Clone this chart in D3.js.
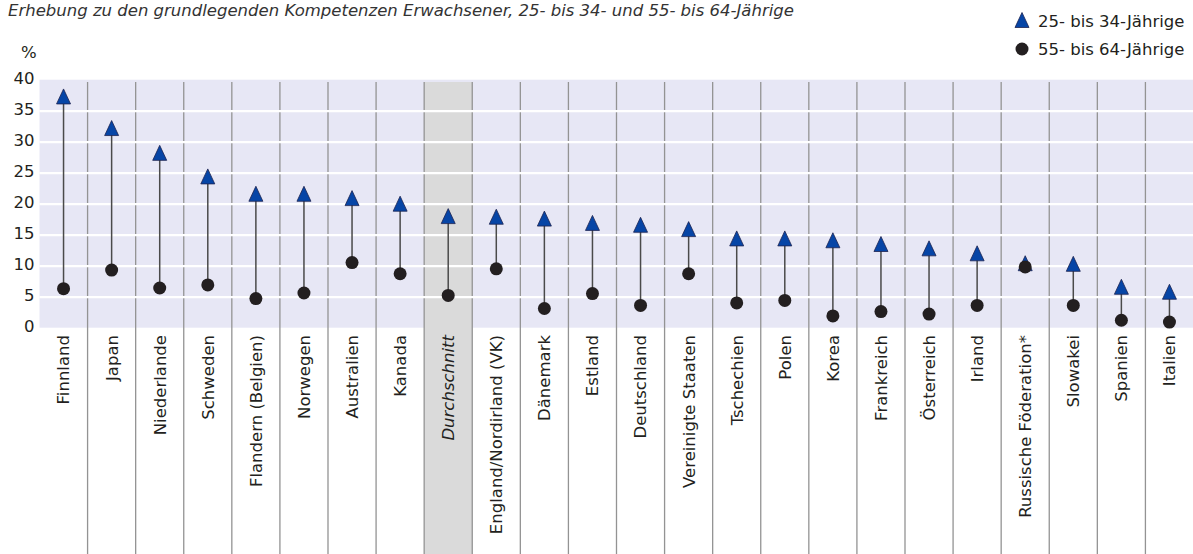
<!DOCTYPE html>
<html>
<head>
<meta charset="utf-8">
<script src="https://cdn.jsdelivr.net/npm/d3@7"></script>
<style>
  body { margin: 0; background: #fff; }
  svg text { font-family: "DejaVu Sans", sans-serif; fill: #231f20; }
</style>
</head>
<body>
<div id="chart"></div>
<script>
var countries = ['Finnland', 'Japan', 'Niederlande', 'Schweden', 'Flandern (Belgien)', 'Norwegen',
  'Australien', 'Kanada', 'Durchschnitt', 'England/Nordirland (VK)', 'Dänemark', 'Estland',
  'Deutschland', 'Vereinigte Staaten', 'Tschechien', 'Polen', 'Korea', 'Frankreich',
  'Österreich', 'Irland', 'Russische Föderation*', 'Slowakei', 'Spanien', 'Italien'];

// 25- bis 34-Jährige
var young = [37.3, 32.2, 28.2, 24.4, 21.6, 21.6, 20.9, 20.0, 18.0, 17.9, 17.6, 16.9,
  16.6, 15.9, 14.4, 14.4, 14.1, 13.5, 12.8, 12.0, 10.4, 10.3, 6.6, 5.8];
// 55- bis 64-Jährige
var old = [6.3, 9.3, 6.4, 6.9, 4.7, 5.6, 10.5, 8.7, 5.2, 9.5, 3.1, 5.5,
  3.6, 8.7, 4.0, 4.4, 1.9, 2.6, 2.2, 3.6, 9.8, 3.6, 1.2, 0.9];

var yTicks = [0, 5, 10, 15, 20, 25, 30, 35, 40];
var legendLabels = ['25- bis 34-Jährige', '55- bis 64-Jährige'];
var title = 'Erhebung zu den grundlegenden Kompetenzen Erwachsener, 25- bis 34- und 55- bis 64-Jährige';
var highlight = 'Durchschnitt';

var width = 1193, height = 554;
var fs = 16.5;

var svg = d3.select('#chart').append('svg')
  .attr('width', width)
  .attr('height', height);

var x = d3.scaleBand().domain(countries).range([39.5, 1193.5]);
var y = d3.scaleLinear().domain([0, 40]).range([327.7, 79.7]);

// title at the very top
svg.append('text')
  .attr('x', 8)
  .attr('y', 16)
  .style('font-style', 'italic')
  .style('font-size', '16.5px')
  .style('fill', '#333')
  .text(title);

svg.append('text')
  .attr('x', 21)
  .attr('y', 58)
  .style('font-size', fs + 'px')
  .text('%');

// plot background
svg.append('rect')
  .attr('x', x.range()[0])
  .attr('y', y(40))
  .attr('width', width - x.range()[0])
  .attr('height', y(0) - y(40))
  .attr('fill', '#e7e7f5');

// highlighted average column
svg.append('rect')
  .attr('x', x(highlight))
  .attr('y', 82)
  .attr('width', x.bandwidth())
  .attr('height', height - 82)
  .attr('fill', '#dadada');

// column separators
svg.append('g')
  .selectAll('line')
  .data(countries.slice(1))
  .enter()
  .append('line')
  .attr('x1', function (d) { return x(d); })
  .attr('x2', function (d) { return x(d); })
  .attr('y1', 82)
  .attr('y2', height)
  .attr('stroke', '#939393')
  .attr('stroke-width', 1.3);

// white gridlines
svg.append('g')
  .attr('transform', 'translate(' + x.range()[0] + ',0)')
  .call(d3.axisLeft(y).tickValues(yTicks.slice(1, -1)).tickSize(-(width - x.range()[0])).tickFormat(''))
  .call(function (g) { g.select('.domain').remove(); })
  .selectAll('line')
  .attr('stroke', '#fff')
  .attr('stroke-width', 2.2);

// y axis labels
svg.append('g')
  .attr('transform', 'translate(' + x.range()[0] + ',0)')
  .call(d3.axisLeft(y).tickValues(yTicks).tickSize(0).tickPadding(5))
  .call(function (g) { g.select('.domain').remove(); })
  .selectAll('text')
  .attr('dy', '0.2em')
  .style('font-size', fs + 'px')
  .style('font-family', '"DejaVu Sans", sans-serif')
  .attr('fill', '#231f20');

// x labels, rotated
svg.append('g')
  .selectAll('text')
  .data(countries)
  .enter()
  .append('text')
  .attr('transform', function (d) {
    return 'translate(' + (x(d) + x.bandwidth() / 2) + ',335) rotate(-90)';
  })
  .attr('text-anchor', 'end')
  .attr('dy', '0.36em')
  .style('font-size', fs + 'px')
  .style('font-style', function (d) { return d === highlight ? 'italic' : 'normal'; })
  .text(function (d) { return d; });

var rows = countries.map(function (c, i) {
  return { name: c, young: young[i], old: old[i] };
});

var cx = function (d) { return x(d.name) + x.bandwidth() / 2; };

// connectors
svg.append('g')
  .selectAll('line')
  .data(rows)
  .enter()
  .append('line')
  .attr('x1', cx)
  .attr('x2', cx)
  .attr('y1', function (d) { return y(d.old); })
  .attr('y2', function (d) { return y(d.young) + 7; })
  .attr('stroke', '#4a4a4a')
  .attr('stroke-width', 1.5);

var tri = 'M0,-7.5L7,7.5L-7,7.5Z';

svg.append('g')
  .selectAll('path')
  .data(rows)
  .enter()
  .append('path')
  .attr('d', tri)
  .attr('transform', function (d) { return 'translate(' + cx(d) + ',' + y(d.young) + ')'; })
  .attr('fill', '#0645a6')
  .attr('stroke', '#1d2350')
  .attr('stroke-width', 0.8);

svg.append('g')
  .selectAll('circle')
  .data(rows)
  .enter()
  .append('circle')
  .attr('cx', cx)
  .attr('cy', function (d) { return y(d.old); })
  .attr('r', 6.5)
  .attr('fill', '#231f20');

// legend
var legend = svg.append('g');
legend.append('path')
  .attr('d', tri)
  .attr('transform', 'translate(1022,20)')
  .attr('fill', '#0645a6')
  .attr('stroke', '#1d2350')
  .attr('stroke-width', 0.8);
legend.append('circle')
  .attr('cx', 1022)
  .attr('cy', 49)
  .attr('r', 6.5)
  .attr('fill', '#231f20');
legend.selectAll('text')
  .data(legendLabels)
  .enter()
  .append('text')
  .attr('x', 1038)
  .attr('y', function (d, i) { return 27 + i * 28; })
  .style('font-size', fs + 'px')
  .text(function (d) { return d; });
</script>
</body>
</html>
